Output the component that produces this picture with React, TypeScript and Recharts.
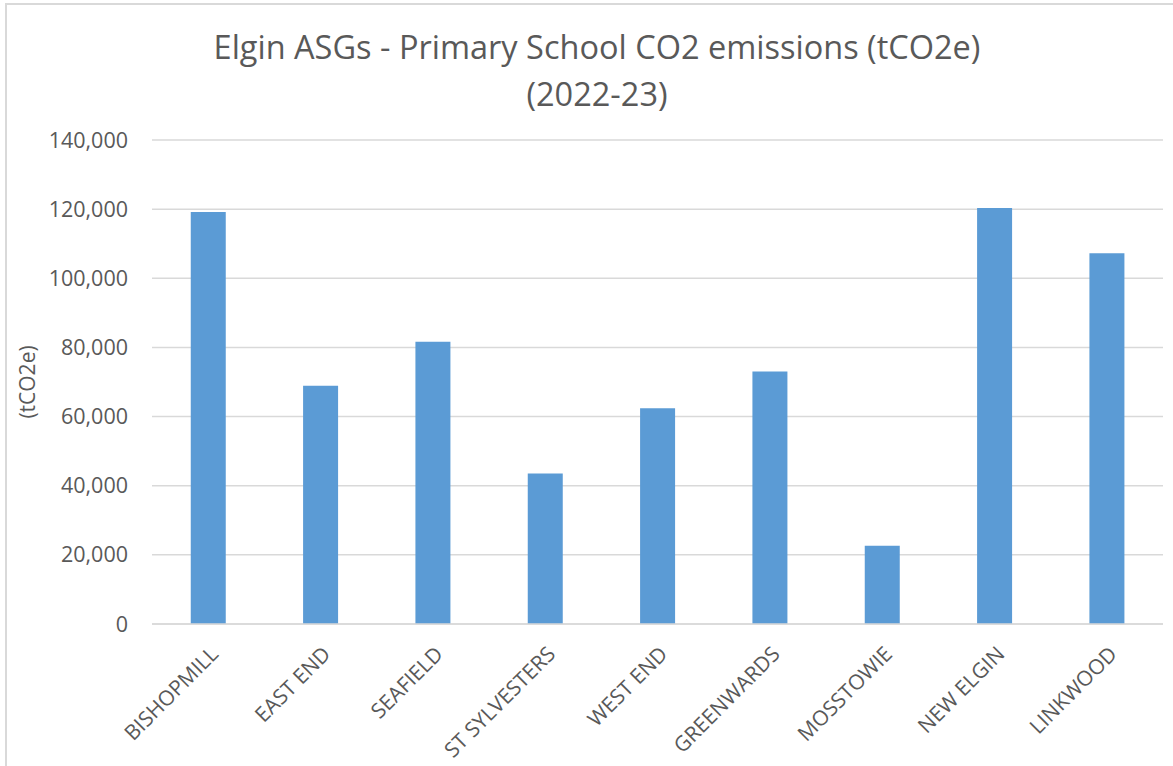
import React from "react"
import { Bar, BarChart, CartesianGrid, XAxis, YAxis } from "recharts"

const schools = [
    "BISHOPMILL",
    "EAST END",
    "SEAFIELD",
    "ST SYLVESTERS",
    "WEST END",
    "GREENWARDS",
    "MOSSTOWIE",
    "NEW ELGIN",
    "LINKWOOD",
]
const emissions = [119200, 68950, 81650, 43550, 62400, 73070, 22600, 120300, 107260]
const yTicks = [0, 20000, 40000, 60000, 80000, 100000, 120000, 140000]

const data = schools.map((name, i) => ({ name, value: emissions[i] }))

const FONT = "'Open Sans', sans-serif"
const TEXT = "#595959"

const SchoolTick = (props: any) => {
    const { x, y, payload } = props
    return (
        <g transform={`translate(${x + 1},${y + 19})`}>
            <text
                transform="rotate(-45)"
                textAnchor="end"
                fill={TEXT}
                fontSize={21}
                fontFamily={FONT}
                dy="0.7em"
            >
                {payload.value}
            </text>
        </g>
    )
}

export default function App() {
    return (
        <div style={{ position: "absolute", left: 0, top: 0, width: 1173, height: 766, background: "#fff", overflow: "hidden" }}>
            <div style={{ position: "absolute", left: 5, top: 3, width: 1200, height: 800, borderLeft: "2px solid #d9d9d9", borderTop: "2px solid #d9d9d9" }} />
            <div style={{ position: "absolute", left: 97, top: 23, width: 1000, textAlign: "center", fontFamily: FONT, fontSize: 32.5, color: TEXT, lineHeight: "47px" }}>
                Elgin ASGs - Primary School CO2 emissions (tCO2e)
                <br />
                (2022-23)
            </div>
            <div style={{ position: "absolute", left: 27, top: 382, width: 0, height: 0 }}>
                <div style={{ position: "absolute", transform: "translate(-50%, -50%) rotate(-90deg)", fontFamily: FONT, fontSize: 21, color: TEXT, whiteSpace: "nowrap" }}>
                    (tCO2e)
                </div>
            </div>
            <div style={{ position: "absolute", left: 0, top: 0 }}>
                <BarChart width={1173} height={766} data={data} margin={{ top: 140, right: 10, bottom: 0, left: 0 }} barCategoryGap="34.5%">
                    <CartesianGrid vertical={false} stroke="#d9d9d9" strokeWidth={1.5} />
                    <XAxis
                        dataKey="name"
                        height={142}
                        interval={0}
                        tickLine={false}
                        tickSize={0}
                        axisLine={{ stroke: "#d9d9d9", strokeWidth: 1.5 }}
                        tick={<SchoolTick />}
                    />
                    <YAxis
                        width={152}
                        domain={[0, 140000]}
                        ticks={yTicks}
                        tickLine={false}
                        axisLine={false}
                        tickSize={0}
                        tickMargin={24}
                        tick={{ fill: TEXT, fontSize: 21.5, fontFamily: FONT }}
                        tickFormatter={(v) => v.toLocaleString("en-US")}
                    />
                    <Bar dataKey="value" fill="#5b9bd5" isAnimationActive={false} />
                </BarChart>
            </div>
        </div>
    )
}
